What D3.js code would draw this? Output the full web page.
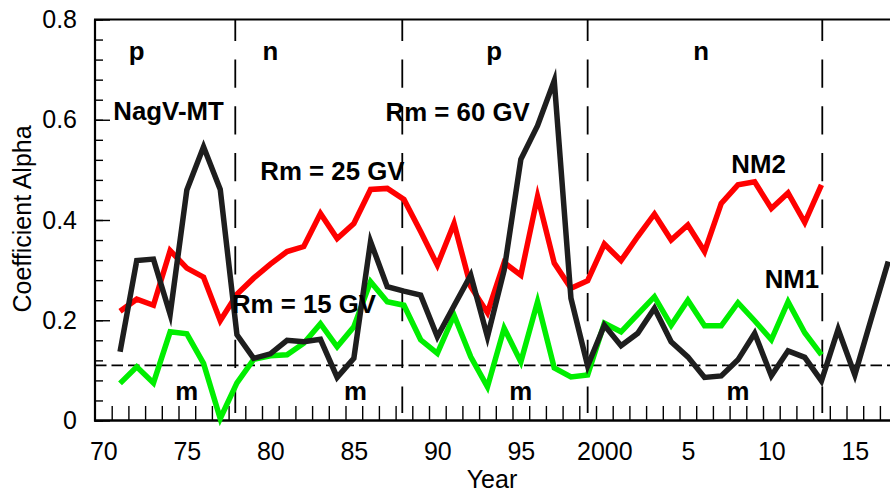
<!DOCTYPE html>
<html>
<head>
<meta charset="utf-8">
<script src="https://cdn.jsdelivr.net/npm/d3@7"></script>
<style>
  html, body { margin: 0; padding: 0; background: #fff; }
  svg { display: block; font-family: "Liberation Sans", Arial, Helvetica, sans-serif; }
</style>
</head>
<body>
<svg id="chart" width="890" height="492"></svg>
<script>
// ---------------- data ----------------
const yearsNM = [1971,1972,1973,1974,1975,1976,1977,1978,1979,1980,1981,1982,1983,1984,1985,1986,1987,1988,1989,1990,
  1991,1992,1993,1994,1995,1996,1997,1998,1999,2000,2001,2002,2003,2004,2005,2006,2007,2008,2009,2010,2011,2012,2013];
const yearsNag = [1971,1972,1973,1974,1975,1976,1977,1978,1979,1980,1981,1982,1983,1984,1985,1986,1987,1988,1989,1990,
  1991,1992,1993,1994,1995,1996,1997,1998,1999,2000,2001,2002,2003,2004,2005,2006,2007,2008,2009,2010,2011,2012,2013,
  2014,2015,2016,2017];

const nm2Red = [0.218,0.242,0.230,0.339,0.304,0.286,0.199,0.252,0.284,0.312,0.337,0.347,0.413,0.363,0.393,0.461,0.463,0.441,0.377,0.310,
  0.393,0.267,0.215,0.315,0.290,0.447,0.314,0.264,0.279,0.352,0.319,0.367,0.412,0.360,0.390,0.337,0.433,0.470,0.476,0.423,0.454,0.395,0.470];
const nm1Green = [0.074,0.107,0.075,0.177,0.173,0.114,0.004,0.075,0.122,0.129,0.131,0.154,0.193,0.147,0.187,0.277,0.237,0.230,0.161,0.134,
  0.210,0.127,0.067,0.184,0.117,0.237,0.105,0.087,0.091,0.194,0.177,0.212,0.247,0.190,0.240,0.189,0.189,0.235,0.199,0.161,0.237,0.175,0.131];
const nagBlack = [0.137,0.319,0.322,0.212,0.460,0.546,0.461,0.171,0.124,0.133,0.160,0.157,0.162,0.086,0.124,0.357,0.267,0.258,0.250,0.167,
  0.229,0.290,0.167,0.300,0.521,0.588,0.678,0.244,0.109,0.190,0.149,0.174,0.224,0.157,0.127,0.086,0.089,0.121,0.174,0.089,0.139,0.126,0.079,
  0.182,0.091,0.205,0.317];

const xLabelYears = [1970,1975,1980,1985,1990,1995,2000,2005,2010,2015];
const xLabelText  = ["70","75","80","85","90","95","2000","5","10","15"];
const yMajorTicks = [0,0.2,0.4,0.6,0.8];
const yMajorText  = ["0","0.2","0.4","0.6","0.8"];
const boundaries  = [1977.9,1987.9,1999.0,2013.05];
const thresholdAlpha = 0.11;

const polarityLabels = [
  {t:"p", year:1972.0, v:0.72}, {t:"n", year:1980.0, v:0.72},
  {t:"p", year:1993.4, v:0.72}, {t:"n", year:2005.8, v:0.72}
];
const minLabels = [
  {t:"m", year:1975.0, v:0.04}, {t:"m", year:1985.1, v:0.04},
  {t:"m", year:1995.0, v:0.04}, {t:"m", year:2008.0, v:0.04}
];
const textLabels = [
  {t:"NagV-MT",    year:1970.6, v:0.600},
  {t:"Rm = 25 GV", year:1979.4, v:0.480},
  {t:"Rm = 60 GV", year:1986.9, v:0.597},
  {t:"Rm = 15 GV", year:1977.7, v:0.214},
  {t:"NM2",        year:2007.6, v:0.494},
  {t:"NM1",        year:2009.6, v:0.265}
];

// ---------------- layout ----------------
const svg = d3.select("#chart");
const W = 890, H = 492;
const plotLeft = 95, plotTop = 19.5, plotBottom = 420.5;
const x = d3.scaleLinear().domain([1969.5, 2017.5]).range([plotLeft, plotLeft + 48 * 16.7]);
const y = d3.scaleLinear().domain([0, 0.8]).range([plotBottom, plotTop]);

svg.append("rect").attr("width", W).attr("height", H).attr("fill", "#fff");

// dashed vertical boundaries
svg.append("g").selectAll("line").data(boundaries).join("line")
  .attr("x1", d => x(d)).attr("x2", d => x(d))
  .attr("y1", plotTop).attr("y2", 413)
  .attr("stroke", "#000").attr("stroke-width", 1.8)
  .attr("stroke-dasharray", "28.3,18.4").attr("stroke-dashoffset", 6.7);

// dashed horizontal threshold
svg.append("line")
  .attr("x1", plotLeft).attr("x2", W)
  .attr("y1", y(thresholdAlpha)).attr("y2", y(thresholdAlpha))
  .attr("stroke", "#000").attr("stroke-width", 1.6)
  .attr("stroke-dasharray", "11.5,5");

// y axis minor ticks
const yMinor = d3.range(0, 0.8001, 0.04);
svg.append("g").attr("transform", `translate(${plotLeft},0)`)
  .call(d3.axisLeft(y).tickValues(yMinor).tickSizeInner(-8).tickSizeOuter(0).tickFormat(""))
  .call(g => g.select(".domain").remove())
  .call(g => g.selectAll("line").attr("stroke-width", 1.4));
// y axis major ticks + labels
svg.append("g").attr("transform", `translate(${plotLeft},0)`)
  .call(d3.axisLeft(y).tickValues(yMajorTicks).tickSizeInner(-15).tickSizeOuter(0).tickPadding(18)
    .tickFormat((d, i) => yMajorText[i]))
  .call(g => g.select(".domain").remove())
  .call(g => g.selectAll("line").attr("stroke-width", 1.4))
  .call(g => g.selectAll("text").attr("font-size", 25).attr("fill", "#000")
    .attr("font-family", "Liberation Sans, Arial, sans-serif"));

// x axis ticks (every year, on half-year positions)
const xMinor = d3.range(1970.5, 2017.0, 1);
svg.append("g").attr("transform", `translate(0,${plotBottom})`)
  .call(d3.axisBottom(x).tickValues(xMinor).tickSizeInner(-14.5).tickSizeOuter(0).tickFormat(""))
  .call(g => g.select(".domain").remove())
  .call(g => g.selectAll("line").attr("stroke-width", 1.4));
// x labels
svg.append("g").attr("transform", `translate(0,${plotBottom})`)
  .call(d3.axisBottom(x).tickValues(xLabelYears).tickSize(0).tickPadding(22)
    .tickFormat((d, i) => xLabelText[i]))
  .call(g => g.select(".domain").remove())
  .call(g => g.selectAll("text").attr("font-size", 25).attr("fill", "#000")
    .attr("font-family", "Liberation Sans, Arial, sans-serif"));

// frame
svg.append("line").attr("x1", plotLeft).attr("x2", plotLeft).attr("y1", plotTop).attr("y2", plotBottom + 1)
  .attr("stroke", "#000").attr("stroke-width", 2.2);
svg.append("line").attr("x1", plotLeft - 1).attr("x2", W).attr("y1", plotBottom).attr("y2", plotBottom)
  .attr("stroke", "#000").attr("stroke-width", 2.4);
svg.append("line").attr("x1", plotLeft - 1).attr("x2", W).attr("y1", plotTop).attr("y2", plotTop)
  .attr("stroke", "#000").attr("stroke-width", 2);

// axis titles
svg.append("text").attr("x", 492).attr("y", 488).attr("text-anchor", "middle")
  .attr("font-size", 25).text("Year");
svg.append("text").attr("transform", "translate(31,219) rotate(-90)").attr("text-anchor", "middle")
  .attr("font-size", 25).text("Coefficient Alpha");

// lines
const line = d3.line().x(d => x(d[0])).y(d => y(d[1]));
function drawSeries(years, vals, color) {
  svg.append("path").datum(years.map((yr, i) => [yr, vals[i]]))
    .attr("d", line).attr("fill", "none").attr("stroke", color)
    .attr("stroke-width", 5.5).attr("stroke-linejoin", "miter").attr("stroke-miterlimit", 6);
}
drawSeries(yearsNM, nm2Red, "#ff0000");
drawSeries(yearsNM, nm1Green, "#00ee00");
drawSeries(yearsNag, nagBlack, "#1e1e1e");

// annotations
const bold = sel => sel.attr("font-size", 25.8).attr("font-weight", "bold").attr("fill", "#000");
svg.append("g").selectAll("text").data(polarityLabels).join("text")
  .attr("x", d => x(d.year)).attr("y", d => y(d.v)).attr("text-anchor", "middle")
  .text(d => d.t).call(bold);
svg.append("g").selectAll("text").data(minLabels).join("text")
  .attr("x", d => x(d.year)).attr("y", d => y(d.v)).attr("text-anchor", "middle")
  .text(d => d.t).call(bold);
svg.append("g").selectAll("text").data(textLabels).join("text")
  .attr("x", d => x(d.year)).attr("y", d => y(d.v)).attr("text-anchor", "start")
  .text(d => d.t).call(bold);
</script>
</body>
</html>
